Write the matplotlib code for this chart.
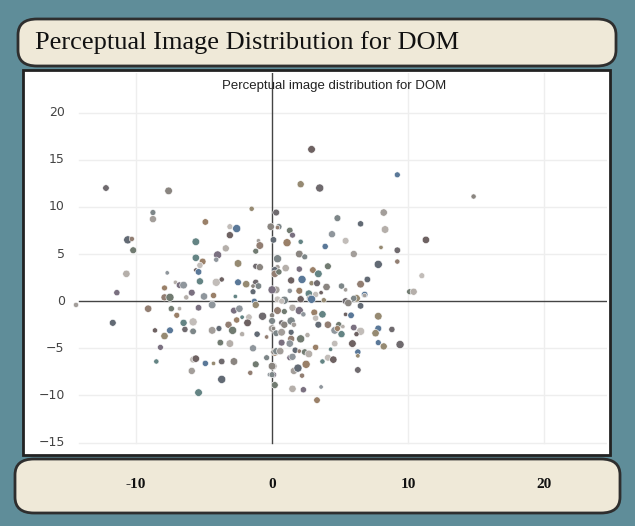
import matplotlib
matplotlib.use("Agg")
import matplotlib.pyplot as plt
import matplotlib.transforms as mtransforms
from matplotlib.patches import FancyBboxPatch, Rectangle

title = "Perceptual Image Distribution for DOM"
subtitle = "Perceptual image distribution for DOM"
x_ticks = [-10, 0, 10, 20]
y_ticks = [20, 15, 10, 5, 0, -5, -10, -15]

# (x, y) of each image
pts_x = [-12.2, -7.6, -8.75, -8.75, -10.6, -10.3, -10.2, -10.7, -11.4, -7.7, -4.9, -5.6, -3.1, -3.1, -2.6,
         -1.5, 0.3, -0.1, 0.5, -1.0, 0.1, -0.9, -1.2, -3.4, -4.0, -4.1, -5.1, -5.6, -5.3, -5.6, -5.4,
         -2.5, -1.2, -0.9, 0.4, 0.4, 0.2, 0.2, 0.5, -7.1, -6.8, -6.5, -7.9, -5.3, -4.1, -3.7, -2.5,
         -1.9, -1.2, -1.4, -1.0, 0.3, -1.4, -7.9, -7.5, -6.3, -5.9, -5.0, -4.3, -2.7, 0.4,
         2.9, 9.2, 2.1, 3.5, 14.8, 4.8, 8.2, 6.5, 0.4, 1.3, 8.3, 1.5, 4.4, 1.1, 2.1, 5.4, 11.3, 3.9,
         8.0, 9.2, 2.0, 2.4, 6.0, 7.8, 9.2, 4.1, 1.0, 2.0, 2.9, 3.0, 3.4, 11.0, 1.4, 2.2, 2.9, 3.3,
         4.0, 5.1, 5.4, 7.0, 6.5, 10.1, 10.4, 0.0, 1.3, 2.0, 2.7, 3.2, 3.6, 6.8, 6.2, 2.1, 2.8, 0.9,
         -14.4, -11.7, -9.1, -7.4, -6.8, -5.4, -4.4, -7.0, -6.5, -5.8, -8.6, -7.5, -7.9, -6.4, -5.9,
         -5.8, -4.4, -3.9, -3.2, -2.9, -2.2, -2.8, -2.4, -2.6, -2.2, -1.7, -1.8, -1.3, -1.2, -0.7,
         0.0, 0.0, 0.0, -1.1, -0.4, -3.8, -3.1, -8.2, -1.4, 0.2, -8.5, -5.8, -5.6, -4.9, -4.3, -3.7,
         -2.8, -0.4, -5.9, -3.7, -1.6, -1.2, 0.1, 0.1, -0.2, 0.2, -5.4,
         0.7, 2.1, 2.9, 3.8, 5.4, 5.6, 6.0, 6.8, 6.5, 0.4, 0.9, 1.5, 2.0, 2.3, 3.1, 3.7, 3.2, 5.4,
         5.8, 7.8, 0.7, 0.9, 1.4, 1.6, 3.4, 4.1, 4.9, 5.2, 6.0, 4.6, 4.8, 5.1, 6.5, 6.2, 7.8, 7.6,
         8.8, 0.1, 0.3, 0.7, 1.4, 1.4, 2.1, 2.6, 0.7, 1.3, 3.2, 4.3, 4.6, 5.9, 7.8, 8.2, 9.4, 0.1,
         0.3, 0.6, 1.7, 2.0, 2.4, 2.7, 1.3, 1.5, 2.5, 3.7, 4.1, 4.5, 6.3, 6.3, 6.3, 0.0, 0.0, 1.6,
         1.9, 2.2, 0.2, 1.5, 2.3, 3.6, 3.3]
pts_y = [12.0, 11.7, 9.4, 8.7, 6.5, 6.6, 5.4, 2.9, 0.9, 3.0, 8.4, 6.3, 7.9, 7.0, 7.7,
         9.8, 9.4, 7.9, 7.9, 6.4, 6.5, 5.9, 5.3, 5.6, 4.9, 4.4, 4.2, 4.6, 3.8, 3.3, 3.1,
         4.0, 3.7, 3.6, 4.5, 3.6, 3.3, 2.9, 3.1, 2.0, 1.7, 1.7, 1.4, 2.1, 2.0, 2.3, 2.0,
         1.8, 2.0, 1.6, 1.6, 1.2, 1.0, 0.4, 0.4, 0.4, 0.9, 0.5, 0.6, 0.5, 0.2,
         16.1, 13.4, 12.4, 12.0, 11.1, 8.8, 9.4, 8.2, 7.8, 7.5, 7.6, 7.0, 7.1, 6.2, 6.3, 6.4, 6.5, 5.8,
         5.7, 5.4, 5.0, 4.7, 5.0, 3.9, 4.2, 3.7, 3.5, 3.4, 3.3, 3.3, 2.9, 2.7, 2.2, 2.3, 1.9, 1.9,
         1.5, 1.6, 1.2, 2.3, 1.8, 1.0, 1.0, 1.2, 1.1, 1.1, 0.8, 0.7, 0.9, 0.7, 0.3, 0.3, 0.3, 0.1,
         -0.4, -2.3, -0.8, -0.8, -0.8, -0.7, -0.4, -1.5, -2.3, -2.2, -3.1, -3.1, -3.7, -3.0, -3.2,
         -3.2, -3.1, -2.9, -2.5, -3.1, -3.5, -1.0, -0.8, -2.0, -1.7, -1.7, -2.3, 0.0, -0.4, -1.6,
         -1.5, -2.1, -2.9, -3.5, -3.8, -4.4, -4.5, -4.9, -5.0, -5.4, -6.4, -6.2, -6.1, -6.6, -6.6, -6.4,
         -6.4, -6.0, -7.4, -8.3, -7.6, -6.7, -6.9, -7.8, -7.8, -8.9, -9.7,
         0.0, 0.2, 0.2, 0.1, 0.0, -0.2, 0.3, 0.6, -0.5, -1.0, -1.1, -0.7, -1.0, -1.4, -1.2, -1.4, -1.8, -1.4,
         -1.5, -1.6, -2.3, -2.5, -2.1, -2.5, -2.5, -2.5, -2.5, -2.7, -2.8, -3.1, -2.9, -3.5, -3.2, -3.5, -2.9, -3.4,
         -3.0, -2.9, -3.4, -3.3, -3.3, -4.0, -4.0, -3.6, -4.4, -4.5, -4.9, -5.1, -4.5, -4.5, -4.4, -4.8, -4.6, -5.4,
         -5.3, -5.3, -5.2, -5.3, -5.4, -5.6, -6.0, -5.9, -6.7, -6.4, -6.0, -6.2, -5.4, -5.8, -7.3, -6.9, -7.8, -7.4,
         -7.1, -7.9, -8.9, -9.3, -9.4, -9.1, -10.5]

palette = ["#6f6a6e", "#8a8580", "#7d8688", "#a39e9a", "#626a74", "#927e72", "#717b71", "#b5afaa",
           "#7a7080", "#8f969c", "#9a8068", "#648484", "#c2bdb9", "#6e6262", "#5a7898", "#968a72"]
sizes = [22, 30, 18, 26, 34, 14, 24, 28, 20, 10]

fig = plt.figure(figsize=(6.35, 5.26), dpi=100)
fig.patch.set_facecolor("#5f8d99")

def px_box(x0, y0, x1, y1, **kw):
    # box in pixel coords (top-left origin) -> figure fraction
    return FancyBboxPatch((x0 / 635, 1 - y1 / 526), (x1 - x0) / 635, (y1 - y0) / 526,
                          transform=fig.transFigure, **kw)

fig.patches.append(px_box(18, 19, 616, 66, boxstyle="round,pad=0,rounding_size=0.03",
                          facecolor="#efe9d8", edgecolor="#2e2e2e", linewidth=2))
fig.patches.append(px_box(15, 459, 620, 513, boxstyle="round,pad=0,rounding_size=0.03",
                          facecolor="#efe9d8", edgecolor="#2e2e2e", linewidth=2))
fig.patches.append(Rectangle((23 / 635, 1 - 455 / 526), 587 / 635, 385 / 526, transform=fig.transFigure,
                             facecolor="white", edgecolor="#222222", linewidth=2))

fig.text(35 / 635, 1 - 43 / 526, title, fontsize=19, family="Liberation Serif",
         va="center", ha="left", color="#111111")

ax = fig.add_axes([27 / 635, 1 - 452 / 526, 580 / 635, 379 / 526])
ax.set_zorder(5)
ax.patch.set_alpha(0)
ax.set_xlim(-18, 24.6)
ax.set_ylim(-16, 24.2)
for s in ax.spines.values():
    s.set_visible(False)
ax.set_xticks([])
ax.set_yticks([])

for v in [-10, 10, 20]:
    ax.plot([v, v], [-15, 24.2], color="#eeeeee", lw=1, zorder=0)
for v in y_ticks:
    if v != 0:
        ax.axhline(v, xmin=0.09, color="#eeeeee", lw=1, zorder=0)
ax.axhline(0, xmin=0.09, color="#444444", lw=1, zorder=1)
ax.plot([0, 0], [-15, 24.2], color="#444444", lw=1, zorder=1)

cols = [palette[i % len(palette)] for i in range(len(pts_x))]
szs = [sizes[i % len(sizes)] for i in range(len(pts_x))]
ax.scatter(pts_x, pts_y, s=szs, c=cols, edgecolors="white", linewidths=0.4, zorder=3)

ax.text(0.53, 0.965, subtitle, transform=ax.transAxes, ha="center", va="center",
        fontsize=9.5, family="Liberation Sans", color="#222222")

ytrans = mtransforms.blended_transform_factory(ax.transAxes, ax.transData)
for v in y_ticks:
    ax.text(0.065, v, str(v).replace("-", "\u2212"), transform=ytrans, ha="right", va="center",
            fontsize=9, color="#444444")

xtrans = mtransforms.blended_transform_factory(ax.transData, fig.transFigure)
for v in x_ticks:
    ax.text(v, 1 - 484 / 526, str(v), transform=xtrans, ha="center", va="center", fontsize=11,
            family="Liberation Serif", fontweight="bold", color="#111111", clip_on=False)

fig.savefig("out.png", dpi=100, facecolor=fig.get_facecolor())
